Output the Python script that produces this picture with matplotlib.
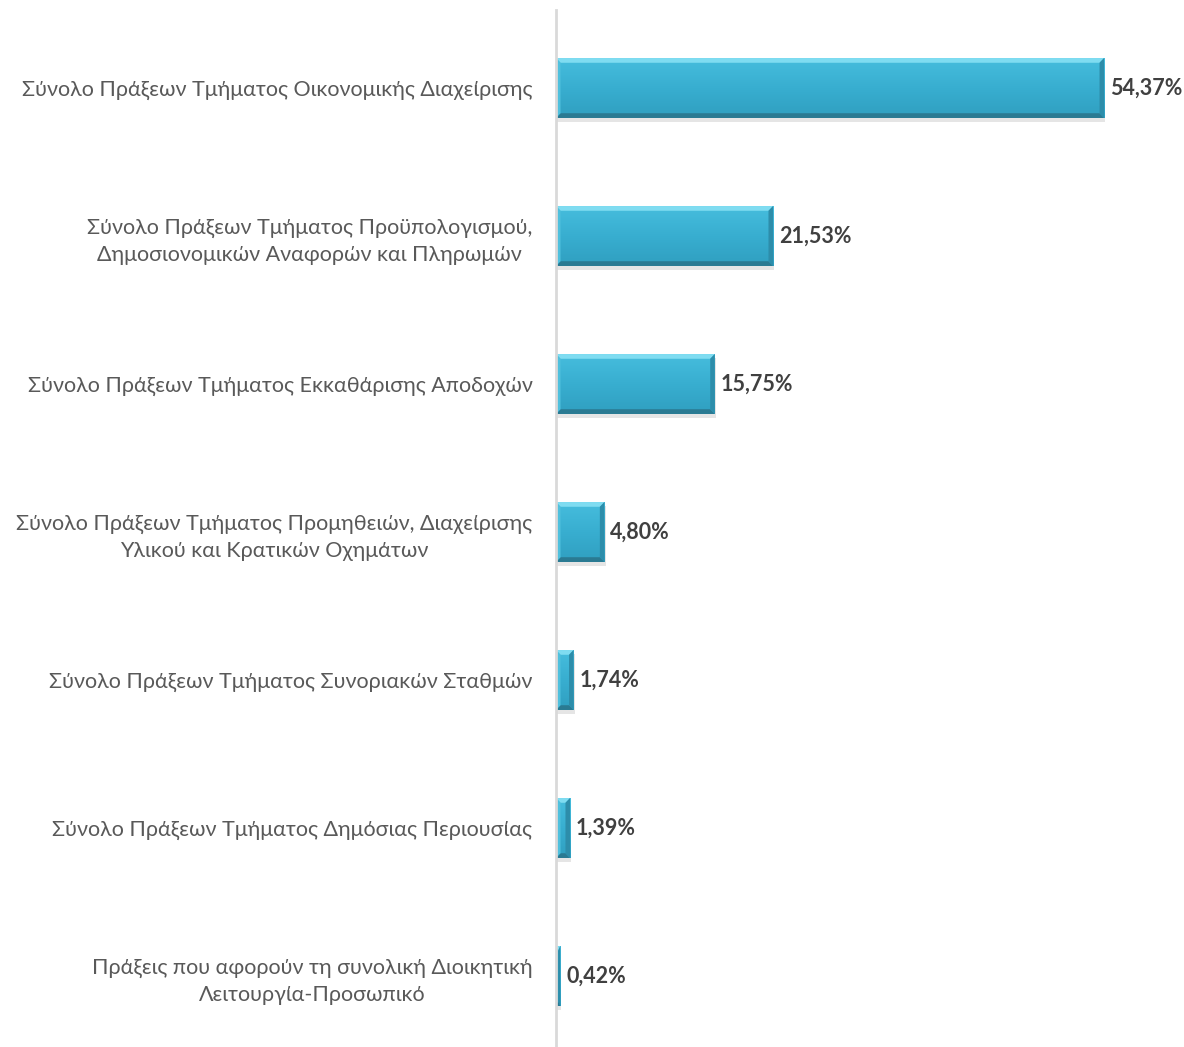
import numpy as np
import matplotlib.pyplot as plt
from matplotlib.patches import Polygon, Rectangle
from matplotlib.colors import LinearSegmentedColormap

plt.rcParams['font.family'] = ['Lato', 'DejaVu Sans']

categories = [
    'Σύνολο Πράξεων Τμήματος Οικονομικής Διαχείρισης',
    'Σύνολο Πράξεων Τμήματος Προϋπολογισμού,\nΔημοσιονομικών Αναφορών και Πληρωμών',
    'Σύνολο Πράξεων Τμήματος Εκκαθάρισης Αποδοχών',
    'Σύνολο Πράξεων Τμήματος Προμηθειών, Διαχείρισης\nΥλικού και Κρατικών Οχημάτων',
    'Σύνολο Πράξεων Τμήματος Συνοριακών Σταθμών',
    'Σύνολο Πράξεων Τμήματος Δημόσιας Περιουσίας',
    'Πράξεις που αφορούν τη συνολική Διοικητική\nΛειτουργία-Προσωπικό',
]
values = [54.37, 21.53, 15.75, 4.80, 1.74, 1.39, 0.42]
value_labels = ['54,37%', '21,53%', '15,75%', '4,80%', '1,74%', '1,39%', '0,42%']

fig = plt.figure(figsize=(11.84, 10.47), dpi=100)
ax = fig.add_axes([556 / 1184, 0, 1 - 556 / 1184, 1 - 10 / 1047])

xmax = (1184 - 556) / 10.08
ax.set_xlim(0, xmax)
ax.set_ylim((1047 - 88) / 148, (10 - 88) / 148)

h = 0.405
bx = 0.45   # bevel width in x units
by = 0.032  # bevel height in y units

top_c = '#7FDCF1'
bot_c = '#2A7A92'
left_c = '#4FC0DD'
right_c = '#2D8DAA'

grad = np.linspace(0, 1, 50).reshape(-1, 1)
cmap = LinearSegmentedColormap.from_list('bar', ['#46BDDD', '#38AED0', '#309FC0'])

for i, v in enumerate(values):
    y0, y1 = i - h / 2, i + h / 2
    bxx = min(bx, v / 2)
    # shadow
    ax.add_patch(Rectangle((0.12, y0 + 0.025), v, h, color='#000000', alpha=0.10, lw=0, zorder=1))
    ax.imshow(grad, aspect='auto', cmap=cmap, extent=(0, v, y1, y0), zorder=2)
    # bevels
    ax.add_patch(Polygon([(0, y0), (v, y0), (v - bxx, y0 + by), (bxx, y0 + by)], color=top_c, lw=0, zorder=3))
    ax.add_patch(Polygon([(0, y1), (v, y1), (v - bxx, y1 - by), (bxx, y1 - by)], color=bot_c, lw=0, zorder=3))
    ax.add_patch(Polygon([(0, y0), (bxx, y0 + by), (bxx, y1 - by), (0, y1)], color=left_c, lw=0, zorder=3))
    ax.add_patch(Polygon([(v, y0), (v - bxx, y0 + by), (v - bxx, y1 - by), (v, y1)], color=right_c, lw=0, zorder=3))
    ax.text(v + 0.6, i, value_labels[i], va='center', ha='left', fontsize=15.5,
            fontweight='bold', color='#404040')

ax.set_yticks(range(len(categories)))
ax.set_yticklabels(categories, fontsize=15.5, color='#595959', multialignment='center',
                   linespacing=1.45)
ax.tick_params(axis='y', length=0, pad=17)
ax.set_xticks([])
for s in ['top', 'right', 'bottom']:
    ax.spines[s].set_visible(False)
ax.spines['left'].set_color('#D9D9D9')
ax.spines['left'].set_linewidth(2)
ax.spines['left'].set_zorder(5)

fig.savefig('out.png', dpi=100)
